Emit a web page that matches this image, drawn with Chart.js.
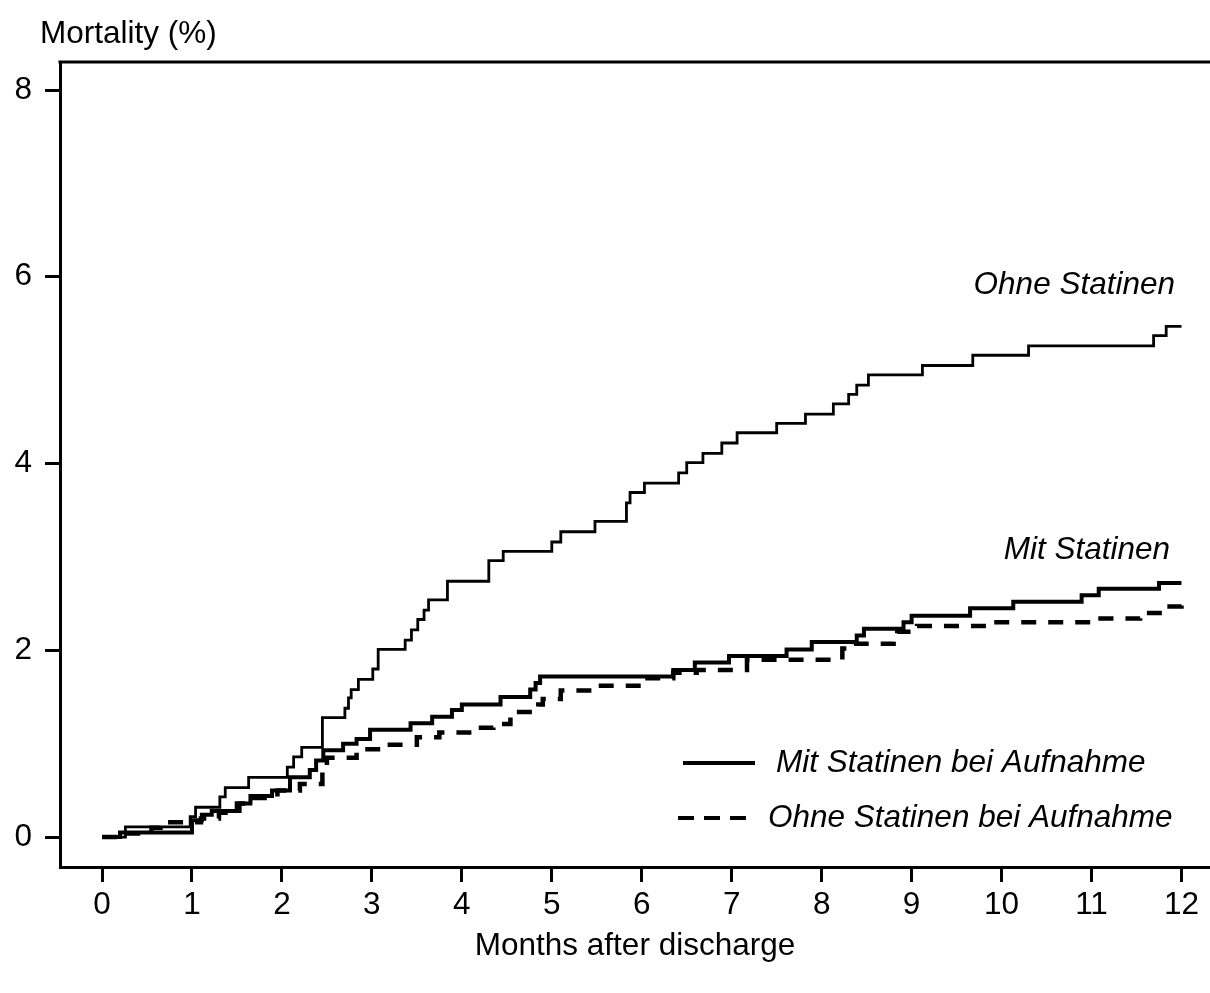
<!DOCTYPE html>
<html>
<head>
<meta charset="utf-8">
<script src="https://cdn.jsdelivr.net/npm/chart.js@4"></script>
<style>
  html, body { margin: 0; padding: 0; background: #fff; }
  #wrap { width: 1210px; height: 993px; }
</style>
</head>
<body>
<div id="wrap"><canvas id="km" width="1210" height="993"></canvas></div>
<script>
// ─── DATA (months after discharge / mortality %) ─────────────────
// step points: value holds from x onward
const ohneX = [0, 0.26, 0.98, 1.04, 1.31, 1.37, 1.63, 2.06, 2.13, 2.22, 2.45, 2.70, 2.74, 2.77, 2.85, 3.01, 3.07,
  3.37, 3.44, 3.51, 3.58, 3.63, 3.84, 4.30, 4.46, 5.00, 5.10, 5.48, 5.83, 5.87, 6.03, 6.41, 6.50, 6.68, 6.89,
  7.06, 7.50, 7.82, 8.13, 8.30, 8.39, 8.52, 9.12, 9.68, 10.30, 11.69, 11.83, 12.0];
const ohneY = [0, 0.11, 0.22, 0.32, 0.43, 0.53, 0.64, 0.75, 0.86, 0.96, 1.28, 1.38, 1.49, 1.58, 1.69, 1.80, 2.01,
  2.11, 2.22, 2.33, 2.43, 2.54, 2.74, 2.96, 3.06, 3.16, 3.27, 3.38, 3.58, 3.69, 3.79, 3.90, 4.01, 4.11, 4.22,
  4.33, 4.43, 4.53, 4.64, 4.74, 4.84, 4.95, 5.05, 5.16, 5.26, 5.37, 5.47, 5.47];

const mitX = [0, 0.20, 1.00, 1.11, 1.22, 1.53, 1.65, 1.89, 2.09, 2.31, 2.38, 2.46, 2.68, 2.83, 2.98, 3.43, 3.67,
  3.89, 4.00, 4.43, 4.76, 4.82, 4.87, 6.35, 6.59, 6.97, 7.61, 7.89, 8.39, 8.47, 8.91, 9.00, 9.65, 10.13,
  10.89, 11.08, 11.75, 12.0];
const mitY = [0, 0.05, 0.18, 0.24, 0.28, 0.36, 0.44, 0.50, 0.64, 0.72, 0.82, 0.93, 1.00, 1.05, 1.15, 1.22, 1.29,
  1.36, 1.42, 1.50, 1.58, 1.65, 1.72, 1.79, 1.87, 1.94, 2.01, 2.09, 2.16, 2.23, 2.30, 2.37, 2.45, 2.52,
  2.59, 2.66, 2.72, 2.72];

const dashX = [0, 0.20, 0.55, 0.65, 1.10, 1.30, 1.50, 1.60, 1.95, 2.20, 2.45, 2.50, 2.83, 3.20, 3.50, 3.75, 4.16,
  4.35, 4.54, 4.85, 4.90, 5.10, 5.45, 6.00, 6.35, 6.61, 7.17, 8.23, 8.36, 8.80, 8.84, 9.06, 9.84, 11.10,
  11.54, 11.80, 12.0];
const dashY = [0, 0.04, 0.10, 0.16, 0.20, 0.26, 0.36, 0.42, 0.50, 0.57, 0.72, 0.85, 0.94, 0.99, 1.07, 1.12, 1.17,
  1.21, 1.34, 1.42, 1.48, 1.57, 1.62, 1.70, 1.76, 1.79, 1.90, 2.02, 2.07, 2.11, 2.20, 2.26, 2.30, 2.34,
  2.40, 2.47, 2.52];

const xTicks = [0, 1, 2, 3, 4, 5, 6, 7, 8, 9, 10, 11, 12];
const yTicks = [0, 2, 4, 6, 8];

const toPts = (xs, ys) => xs.map((x, i) => ({ x, y: ys[i] }));

// ─── EXTRA DRAWING: top frame, texts, legend ─────────────────────
const FONT = "'Liberation Sans', Arial, sans-serif";
const FS = 31.5;
const decor = {
  id: 'decor',
  afterDraw(chart) {
    const { ctx, chartArea: a } = chart;
    ctx.save();
    ctx.strokeStyle = '#000';
    ctx.fillStyle = '#000';
    ctx.lineWidth = 3;
    ctx.beginPath();
    ctx.moveTo(a.left - 1.5, a.top);
    ctx.lineTo(a.right, a.top);
    ctx.stroke();

    ctx.textBaseline = 'middle';
    ctx.font = FS + 'px ' + FONT;
    ctx.textAlign = 'left';
    ctx.fillText('Mortality (%)', 40, 34);

    ctx.font = 'italic ' + FS + 'px ' + FONT;
    ctx.textAlign = 'right';
    ctx.fillText('Ohne Statinen', 1175, 285);
    ctx.fillText('Mit Statinen', 1170, 550);

    // legend
    ctx.textAlign = 'left';
    ctx.lineWidth = 4;
    ctx.beginPath();
    ctx.moveTo(683, 763); ctx.lineTo(755, 763);
    ctx.stroke();
    ctx.fillText('Mit Statinen bei Aufnahme', 776, 763);
    ctx.setLineDash([16, 10]);
    ctx.beginPath();
    ctx.moveTo(678, 818); ctx.lineTo(750, 818);
    ctx.stroke();
    ctx.setLineDash([]);
    ctx.fillText('Ohne Statinen bei Aufnahme', 768, 818);
    ctx.restore();
  },
};

const lineBase = {
  stepped: true,
  pointRadius: 0,
  borderColor: '#000',
  borderJoinStyle: 'miter',
  borderCapStyle: 'butt',
  fill: false,
};

new Chart(document.getElementById('km'), {
  type: 'line',
  data: {
    datasets: [
      { ...lineBase, label: 'Ohne Statinen bei Aufnahme', data: toPts(dashX, dashY), borderWidth: 4.5, borderDash: [15, 12] },
      { ...lineBase, label: 'Mit Statinen bei Aufnahme', data: toPts(mitX, mitY), borderWidth: 4 },
      { ...lineBase, label: 'Ohne Statinen', data: toPts(ohneX, ohneY), borderWidth: 2.8 },
    ],
  },
  options: {
    responsive: false,
    devicePixelRatio: 1,
    animation: false,
    layout: { padding: { left: 0, right: 0, top: 62, bottom: 0 } },
    plugins: { legend: { display: false }, tooltip: { enabled: false } },
    scales: {
      x: {
        type: 'linear',
        min: -0.467,
        max: 12.317,
        afterBuildTicks: s => { s.ticks = xTicks.map(v => ({ value: v })); },
        afterFit: s => { s.height = 126; },
        border: { display: true, color: '#000', width: 3 },
        grid: { drawOnChartArea: false, drawTicks: true, tickLength: 15, tickWidth: 3, tickColor: '#000' },
        ticks: { color: '#000', padding: 4, font: { family: FONT, size: FS }, maxRotation: 0 },
        title: {
          display: true, text: 'Months after discharge', color: '#000',
          font: { family: FONT, size: FS }, padding: { top: 0, bottom: 28 },
        },
      },
      y: {
        min: -0.32,
        max: 8.30,
        afterBuildTicks: s => { s.ticks = yTicks.map(v => ({ value: v })); },
        afterFit: s => { s.width = 60; },
        border: { display: true, color: '#000', width: 3 },
        grid: { drawOnChartArea: false, drawTicks: true, tickLength: 15, tickWidth: 3, tickColor: '#000' },
        ticks: { color: '#000', padding: 13, font: { family: FONT, size: FS } },
      },
    },
  },
  plugins: [decor],
});
</script>
</body>
</html>
